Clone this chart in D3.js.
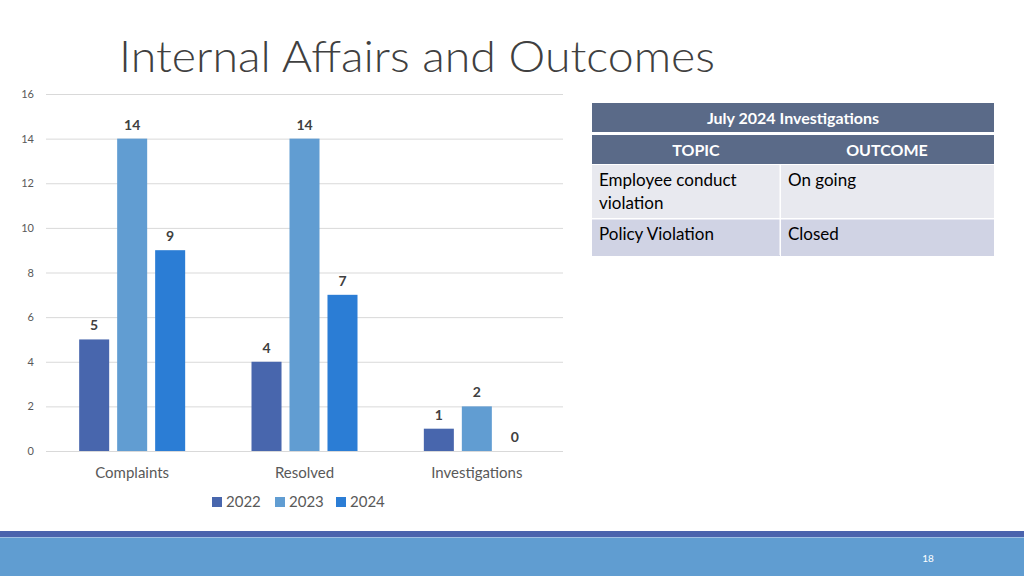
<!DOCTYPE html>
<html><head><meta charset="utf-8">
<script src="https://cdn.jsdelivr.net/npm/d3@7"></script>
<style>body{margin:0;background:#fff;} svg{display:block;}</style>
</head><body>
<svg id="c" width="1024" height="576"></svg>
<script>
const categories = ["Complaints", "Resolved", "Investigations"];
const seriesNames = ["2022", "2023", "2024"];
const values2022 = [5, 4, 1];
const values2023 = [14, 14, 2];
const values2024 = [9, 7, 0];
const yTicks = [0, 2, 4, 6, 8, 10, 12, 14, 16];
const tableTitle = "July 2024 Investigations";
const tableHeaders = ["TOPIC", "OUTCOME"];
const tableTopics = ["Employee conduct violation", "Policy Violation"];
const tableOutcomes = ["On going", "Closed"];
const pageNumber = "18";

const colors = ["#4866ad", "#619dd2", "#2b7dd5"];
const series = [values2022, values2023, values2024];
const font = "Lato, 'Open Sans', sans-serif";

const svg = d3.select("#c");

// Title
svg.append("text").attr("x", 119).attr("y", 72)
  .attr("font-family", font).attr("font-weight", 300).attr("font-size", 44)
  .attr("fill", "#404040").attr("textLength", 596).attr("lengthAdjust", "spacingAndGlyphs")
  .text("Internal Affairs and Outcomes");

// Chart
const x0 = d3.scaleBand().domain(categories).range([46, 563]).paddingInner(0).paddingOuter(0);
const half = 53;
const x1 = d3.scaleBand().domain(seriesNames)
  .range([x0.bandwidth() / 2 - half, x0.bandwidth() / 2 + half]).paddingInner(0.21).paddingOuter(0);
const y = d3.scaleLinear().domain([0, 16]).range([451, 94]);

const g = svg.append("g");
g.selectAll("line.grid").data(yTicks).join("line")
  .attr("x1", 46).attr("x2", 563)
  .attr("y1", d => y(d) + 0.5).attr("y2", d => y(d) + 0.5)
  .attr("stroke", "#d9d9d9").attr("stroke-width", 1);

g.selectAll("text.ytick").data(yTicks).join("text")
  .attr("x", 34).attr("y", d => y(d) + 4)
  .attr("text-anchor", "end").attr("font-family", font).attr("font-size", 11)
  .attr("fill", "#595959").text(d => d);

const rows = [];
categories.forEach((c, i) => seriesNames.forEach((s, j) => rows.push({c, s, v: series[j][i], j})));

g.selectAll("rect.bar").data(rows).join("rect")
  .attr("x", d => x0(d.c) + x1(d.s))
  .attr("width", x1.bandwidth())
  .attr("y", d => y(d.v))
  .attr("height", d => y(0) - y(d.v))
  .attr("fill", d => colors[d.j]);

g.selectAll("text.lbl").data(rows).join("text")
  .attr("x", d => x0(d.c) + x1(d.s) + x1.bandwidth() / 2)
  .attr("y", d => y(d.v) - 9)
  .attr("text-anchor", "middle").attr("font-family", font).attr("font-weight", 700)
  .attr("font-size", 14).attr("fill", "#404040").text(d => d.v);

g.selectAll("text.cat").data(categories).join("text")
  .attr("x", d => x0(d) + x0.bandwidth() / 2).attr("y", 478)
  .attr("text-anchor", "middle").attr("font-family", font).attr("font-size", 15)
  .attr("fill", "#595959").text(d => d);

// Legend
const legX = [212, 275, 336];
const leg = g.selectAll("g.leg").data(seriesNames).join("g")
  .attr("transform", (d, i) => `translate(${legX[i]},0)`);
leg.append("rect").attr("x", 0).attr("y", 497).attr("width", 10).attr("height", 10)
  .attr("fill", (d, i) => colors[i]);
leg.append("text").attr("x", 14).attr("y", 507).attr("font-family", font).attr("font-size", 15)
  .attr("fill", "#595959").text(d => d);

// Table
const tx = 592, tw = 402, cx = 780;
const t = svg.append("g");
t.append("rect").attr("x", tx).attr("y", 103).attr("width", tw).attr("height", 29).attr("fill", "#5a6a88");
t.append("rect").attr("x", tx).attr("y", 135).attr("width", tw).attr("height", 29).attr("fill", "#5a6a88");
t.append("text").attr("x", tx + tw / 2).attr("y", 124).attr("text-anchor", "middle")
  .attr("font-family", font).attr("font-weight", 700).attr("font-size", 16).attr("fill", "#fff").text(tableTitle);
const colCenters = [(tx + cx) / 2 + 10, (cx + tx + tw) / 2];
t.selectAll("text.h").data(tableHeaders).join("text")
  .attr("x", (d, i) => colCenters[i]).attr("y", 156).attr("text-anchor", "middle")
  .attr("font-family", font).attr("font-weight", 700).attr("font-size", 16).attr("fill", "#fff").text(d => d);

const rowY = [165, 219], rowH = [53, 37], rowFill = ["#e8e9ef", "#d0d3e4"];
tableTopics.forEach((topic, i) => {
  t.append("rect").attr("x", tx).attr("y", rowY[i]).attr("width", cx - tx).attr("height", rowH[i]).attr("fill", rowFill[i]);
  t.append("rect").attr("x", cx + 1).attr("y", rowY[i]).attr("width", tx + tw - cx - 1).attr("height", rowH[i]).attr("fill", rowFill[i]);
  const words = topic === "Employee conduct violation" ? ["Employee conduct", "violation"] : [topic];
  const tt = t.append("text").attr("font-family", font).attr("font-size", 17).attr("fill", "#000");
  words.forEach((w, k) => tt.append("tspan").attr("x", 599).attr("y", rowY[i] + 21 + k * 23).text(w));
  t.append("text").attr("x", 788).attr("y", rowY[i] + 21).attr("font-family", font).attr("font-size", 17)
    .attr("fill", "#000").text(tableOutcomes[i]);
});
// white separators
t.append("rect").attr("x", tx).attr("y", 218).attr("width", tw).attr("height", 1.5).attr("fill", "#fff");
t.append("rect").attr("x", cx - 0.5).attr("y", 165).attr("width", 1.5).attr("height", 90).attr("fill", "#fff");

// Footer
svg.append("rect").attr("x", 0).attr("y", 531).attr("width", 1024).attr("height", 6).attr("fill", "#4a63ad");
svg.append("rect").attr("x", 0).attr("y", 537).attr("width", 1024).attr("height", 1).attr("fill", "#9dbfe3");
svg.append("rect").attr("x", 0).attr("y", 538).attr("width", 1024).attr("height", 38).attr("fill", "#609dd1");
svg.append("text").attr("x", 928).attr("y", 562).attr("text-anchor", "middle").attr("font-family", font)
  .attr("font-size", 10).attr("fill", "#fff").text(pageNumber);
</script>
</body></html>
